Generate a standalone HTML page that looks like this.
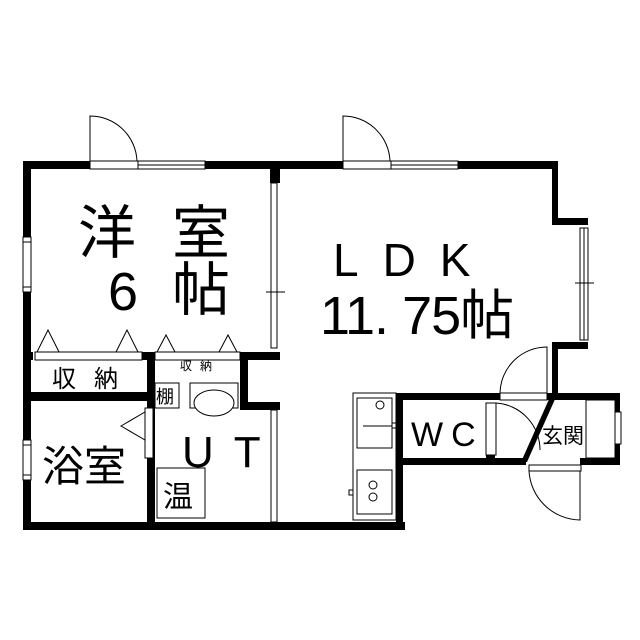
<!DOCTYPE html>
<html><head><meta charset="utf-8"><style>
html,body{margin:0;padding:0;background:#fff;}
svg{display:block}
text{font-family:"Liberation Sans","Noto Sans CJK JP",sans-serif;fill:#000}
</style></head><body>
<svg width="640" height="640" viewBox="0 0 640 640" xmlns="http://www.w3.org/2000/svg">
<rect width="640" height="640" fill="#fff"/>
<g fill="#000">
<rect x="23" y="161" width="535" height="8"/>
<rect x="23" y="161" width="8" height="369"/>
<rect x="23" y="522" width="382" height="8"/>
<rect x="552" y="161" width="6" height="64"/>
<rect x="552" y="218" width="36" height="7"/>
<rect x="552" y="342" width="36" height="7"/>
<rect x="552" y="342" width="6" height="55"/>
<rect x="396" y="393" width="224" height="7"/>
<rect x="614" y="393" width="6" height="72"/>
<rect x="396" y="393" width="7" height="137"/>
<rect x="396" y="458" width="130" height="7"/>
<rect x="580" y="458" width="40" height="7"/>
<rect x="270" y="166" width="10" height="17"/>
<rect x="240" y="352" width="40" height="8"/>
<rect x="23" y="352" width="10" height="8"/>
<rect x="142" y="352" width="14" height="8"/>
<rect x="147" y="352" width="8" height="178"/>
<rect x="23" y="392" width="130" height="9"/>
<rect x="240" y="352" width="8" height="58"/>
<rect x="240" y="402" width="40" height="8"/>
<rect x="270" y="402" width="8" height="8"/>
<rect x="486" y="455" width="9" height="8"/>
</g>
<polygon points="550,397 556,397 527,462 521,462" fill="#000"/>
<g fill="#fff" stroke="#000" stroke-width="1">
<rect x="23" y="237" width="8" height="55"/>
<rect x="23" y="440" width="8" height="40"/>
<rect x="90" y="161" width="48" height="8"/>
<rect x="138" y="161" width="67" height="8"/>
<rect x="343" y="161" width="48" height="8"/>
<rect x="391" y="161" width="67" height="8"/>
<rect x="271" y="183" width="6" height="165"/>
<rect x="271" y="410" width="6" height="112"/>
<rect x="580" y="228" width="8" height="112"/>
<rect x="613" y="412" width="8" height="32"/>
<rect x="35" y="352" width="107" height="8"/>
<rect x="155" y="352" width="85" height="8"/>
<rect x="155" y="383" width="24" height="25"/>
<rect x="190" y="383" width="48" height="25"/>
<ellipse cx="214" cy="403" rx="20" ry="13"/>
<rect x="145" y="408" width="8" height="50"/>
<rect x="157" y="468" width="48" height="50"/>
<rect x="353" y="393" width="43" height="127"/>
<rect x="357" y="398" width="35" height="50"/>
<rect x="357" y="470" width="35" height="44"/>
<circle cx="380" cy="405" r="4"/>
<circle cx="373" cy="485" r="4"/>
<circle cx="373" cy="497" r="4"/>
<rect x="392" y="423" width="4" height="5"/>
<rect x="349" y="490" width="4" height="5"/>
<rect x="486" y="403" width="10" height="52"/>
<rect x="500" y="393" width="47" height="7"/>
<rect x="529" y="465" width="52" height="6"/>
<rect x="586" y="400" width="29" height="58"/>
</g>
<g fill="none" stroke="#000" stroke-width="1">
<line x1="23" y1="242" x2="31" y2="242"/><line x1="23" y1="287" x2="31" y2="287"/>
<line x1="23" y1="445" x2="31" y2="445"/><line x1="23" y1="475" x2="31" y2="475"/>
<line x1="138" y1="165" x2="205" y2="165"/><line x1="391" y1="165" x2="458" y2="165"/>
<line x1="584" y1="228" x2="584" y2="340"/>
<path d="M90 161 V116 A47 47 0 0 1 137 161"/>
<path d="M343 161 V116 A47 47 0 0 1 390 161"/>
<path d="M547 393 V347 A47 47 0 0 0 500 393"/>
<path d="M496 403 A47 47 0 0 1 540 450"/>
<path d="M580 471 V520 A52 52 0 0 1 529 471"/>
<path d="M121 426 L145 412 V440 Z"/>
<path d="M37 352 L48 330 L59 352"/>
<path d="M116 352 L127 330 L138 352"/>
<path d="M157 352 L166 335 L175 352"/>
<path d="M219 352 L228 335 L237 352"/>
<line x1="266" y1="292" x2="285" y2="292"/>
<line x1="575" y1="283" x2="594" y2="283"/>
<line x1="363" y1="426" x2="392" y2="426"/>
</g>
<text x="78" y="253" font-size="58">洋</text>
<text x="172" y="253" font-size="58">室</text>
<text x="108" y="310" font-size="54">6</text>
<text x="172" y="310" font-size="58">帖</text>
<text x="333" y="276" font-size="46" letter-spacing="24">LDK</text>
<text x="320" y="334" font-size="54" letter-spacing="-1">11. 75帖</text>
<text x="52" y="387" font-size="24" letter-spacing="18">収納</text>
<text x="180" y="370" font-size="12" letter-spacing="8">収納</text>
<text x="156" y="403" font-size="18">棚</text>
<text x="182" y="467" font-size="44" letter-spacing="20">UT</text>
<text x="42" y="481" font-size="42">浴室</text>
<text x="163" y="507" font-size="30">温</text>
<text x="411" y="446" font-size="34" letter-spacing="8">WC</text>
<text x="542" y="443" font-size="21">玄関</text>
</svg>
</body></html>
